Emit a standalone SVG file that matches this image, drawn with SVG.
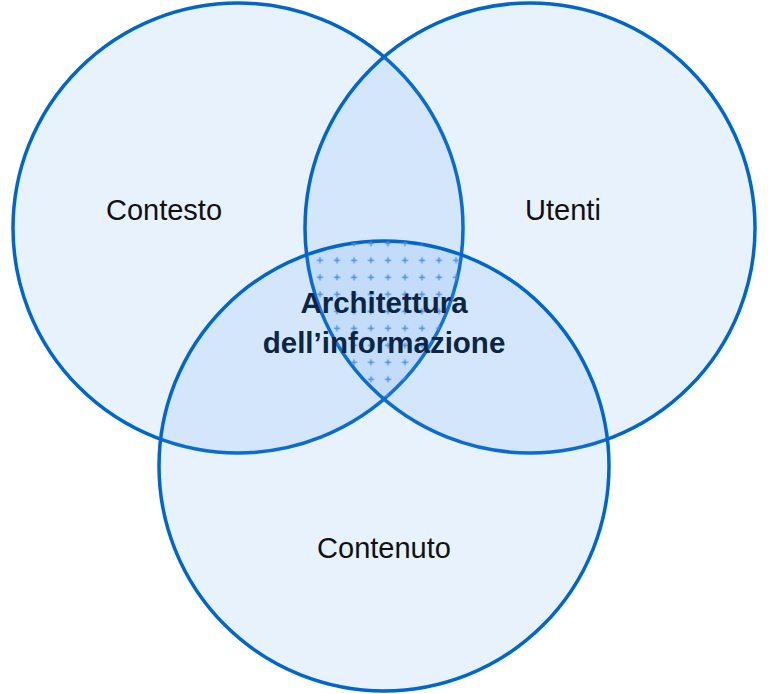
<svg xmlns="http://www.w3.org/2000/svg" width="768" height="694" viewBox="0 0 768 694">
<style>
.c{fill:#4E9BF0;fill-opacity:0.13;stroke:#0066CC;stroke-width:3.5}
.lbl{font-family:"Liberation Sans",Arial,sans-serif;font-size:29px;fill:#111;text-anchor:middle}
.core{font-family:"Liberation Sans",Arial,sans-serif;font-size:29.5px;font-weight:bold;fill:#0B2545;text-anchor:middle}
</style>
<defs>
<clipPath id="cl"><circle cx="238" cy="228" r="225"/></clipPath>
<clipPath id="cr"><circle cx="530" cy="228" r="225"/></clipPath>
<clipPath id="cb"><circle cx="384" cy="466" r="225"/></clipPath>
<pattern id="plus" patternUnits="userSpaceOnUse" x="311.5" y="234.8" width="17" height="17">
<path d="M8.5 5.5V11.5M5.5 8.5H11.5" stroke="#4F8FDC" stroke-width="1.4" fill="none"/>
</pattern>
</defs>
<g id="contesto">
<circle class="c" cx="238" cy="228" r="225"/>
<text class="lbl" x="164" y="220">Contesto</text>
</g>
<g id="utenti">
<circle class="c" cx="530" cy="228" r="225"/>
<text class="lbl" x="563" y="220">Utenti</text>
</g>
<g id="contenuto">
<circle class="c" cx="384" cy="466" r="225"/>
<text class="lbl" x="384" y="558">Contenuto</text>
</g>
<g id="architettura">
<g clip-path="url(#cl)"><g clip-path="url(#cr)"><g clip-path="url(#cb)">
<rect x="290" y="230" width="190" height="180" fill="url(#plus)"/>
</g></g></g>
<text class="core" x="384" y="313">Architettura</text>
<text class="core" x="384" y="353">dell’informazione</text>
</g>
</svg>
